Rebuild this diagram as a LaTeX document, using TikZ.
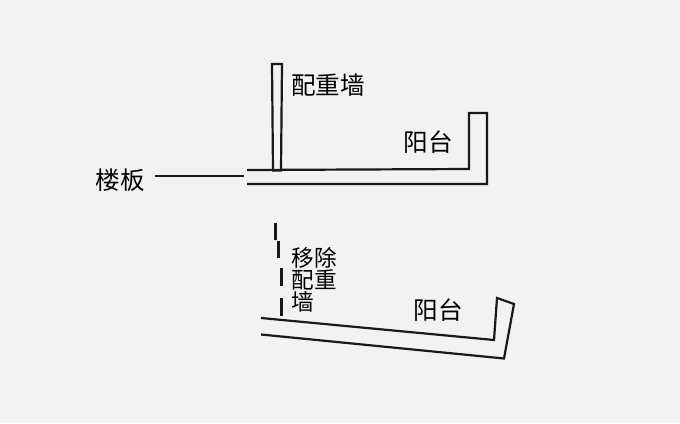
\documentclass[tikz,border=0pt]{standalone}
\usepackage{fontspec}
\newfontfamily\cjk{Noto Sans CJK SC}
\tikzset{
  sketchline/.style={line width=2.2pt,black!90},
  dashline/.style={line width=3pt,black!90},
  biglabel/.style={inner sep=0pt,font=\cjk\fontsize{24.6}{24.6}\selectfont},
  smalllabel/.style={inner sep=0pt,align=left,font=\cjk\fontsize{22.6}{22}\selectfont}
}
\begin{document}
\begin{tikzpicture}[x=1pt,y=-1pt]
  %Background
  \fill[black!5] (0,0) rectangle (680,423);
  \useasboundingbox (0,0) rectangle (680,423);
  %Labels
  \node[biglabel] (wall) at (328,85) {配重墙};
  \node[biglabel] (balconytop) at (428,142) {阳台};
  \node[biglabel] (floor) at (120,180) {楼板};
  \node[smalllabel,anchor=north west] (removed) at (291.5,247) {移除\\配重\\墙};
  \node[biglabel] (balconylow) at (438.5,310) {阳台};
  %Leader
  \coordinate (leaderstart) at (155,175.5);
  \coordinate (leaderend) at (244,175.5);
  \draw[line width=2pt,black!90] (leaderstart) -- (leaderend);
  %Upper slab with wall
  \draw[sketchline] (247,170) -- (469,169) -- (469,113) -- (487,113) -- (487,184) -- (247,184);
  \draw[sketchline] (273,170.5) -- (272,64) -- (282,64) -- (281,170.5) -- cycle;
  %Lower slab
  \draw[sketchline] (261,318) -- (494,340) -- (497,298) -- (514,304) -- (504,358.5) -- (261,334.5);
  %Removed wall
  \draw[dashline] (275.4,223) -- (275.4,240);
  \draw[dashline] (278.4,241) -- (278.4,258);
  \draw[dashline] (281.5,268) -- (281.5,286);
  \draw[dashline] (281.5,298) -- (281.5,316);
\end{tikzpicture}
\end{document}
